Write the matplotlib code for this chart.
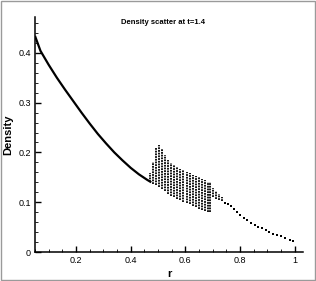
import matplotlib
matplotlib.use("Agg")
import matplotlib.pyplot as plt
from matplotlib.ticker import MultipleLocator, FuncFormatter
from matplotlib.patches import Rectangle

# smooth inner curve
curve_r = [0.05, 0.07, 0.10, 0.13, 0.16, 0.19, 0.22, 0.25, 0.28, 0.31, 0.34, 0.37, 0.40, 0.43, 0.46, 0.475]
curve_d = [0.434, 0.404, 0.376, 0.350, 0.326, 0.303, 0.280, 0.258, 0.237, 0.218, 0.200, 0.184, 0.169, 0.156, 0.145, 0.140]

# scattered shell region: column position, lowest and highest density
col_r = [0.472, 0.483, 0.494, 0.505, 0.516, 0.527, 0.538, 0.549, 0.560, 0.571, 0.582,
         0.593, 0.604, 0.615, 0.626, 0.637, 0.648, 0.659, 0.670, 0.681, 0.690,
         0.700, 0.711, 0.722, 0.732]
col_hi = [0.158, 0.180, 0.208, 0.214, 0.206, 0.195, 0.185, 0.178, 0.174, 0.170, 0.167,
          0.164, 0.161, 0.158, 0.155, 0.152, 0.150, 0.147, 0.144, 0.141, 0.140,
          0.128, 0.122, 0.116, 0.110]
col_lo = [0.140, 0.137, 0.134, 0.131, 0.127, 0.122, 0.117, 0.113, 0.110, 0.107, 0.104,
          0.101, 0.099, 0.096, 0.093, 0.090, 0.087, 0.085, 0.083, 0.081, 0.081,
          0.110, 0.106, 0.104, 0.102]

# outer tail points
tail_r = [0.743, 0.755, 0.766, 0.777, 0.788, 0.800, 0.814, 0.826, 0.839, 0.853, 0.865,
          0.879, 0.893, 0.906, 0.921, 0.935, 0.950, 0.965, 0.981, 0.995]
tail_d = [0.099, 0.096, 0.092, 0.086, 0.080, 0.074, 0.069, 0.065, 0.059, 0.055, 0.051,
          0.048, 0.045, 0.041, 0.037, 0.035, 0.033, 0.029, 0.025, 0.023]

title = "Density scatter at t=1.4"
xlabel = "r"
ylabel = "Density"

plt.rcParams['font.family'] = ['Liberation Sans', 'DejaVu Sans']

fig = plt.figure(figsize=(3.16, 2.81), dpi=100)
fig.patches.append(Rectangle((0.004, 0.004), 0.992, 0.992, transform=fig.transFigure,
                             fill=False, edgecolor='#9a9a9a', linewidth=1.0))
ax = fig.add_axes([35/316, 1-252/281, (303-35)/316, (252-17)/281])

ax.plot(curve_r, curve_d, color='black', linewidth=1.6, solid_capstyle='butt')
ax.vlines(col_r, col_lo, col_hi, colors='black', linewidth=1.3, linestyles=(0, (1.0, 0.5)))
ax.plot(tail_r, tail_d, linestyle='none', marker='s', markersize=1.9, color='black',
        markeredgewidth=0)

ax.set_xlim(0.05, 1.03)
ax.set_ylim(0, 0.472)
for s in ['top', 'right']:
    ax.spines[s].set_visible(False)
for s in ['left', 'bottom']:
    ax.spines[s].set_linewidth(1.1)

ax.xaxis.set_major_locator(MultipleLocator(0.2))
ax.xaxis.set_minor_locator(MultipleLocator(0.05))
ax.yaxis.set_major_locator(MultipleLocator(0.1))
ax.yaxis.set_minor_locator(MultipleLocator(0.02))
fmt = FuncFormatter(lambda v, p: ('%g' % round(v, 3)))
ax.xaxis.set_major_formatter(fmt)
ax.yaxis.set_major_formatter(fmt)
ax.tick_params(which='major', direction='in', length=4, width=1.0, labelsize=6.5, pad=3)
ax.tick_params(which='minor', direction='in', length=2, width=0.6)

ax.set_xlabel(xlabel, fontsize=8, fontweight='bold', labelpad=3)
ax.set_ylabel(ylabel, fontsize=8, fontweight='bold', labelpad=4)
fig.text(163/316, 1-23/281, title, fontsize=5.5, fontweight='bold', ha='center', va='center')

fig.savefig('out.png', dpi=100)
